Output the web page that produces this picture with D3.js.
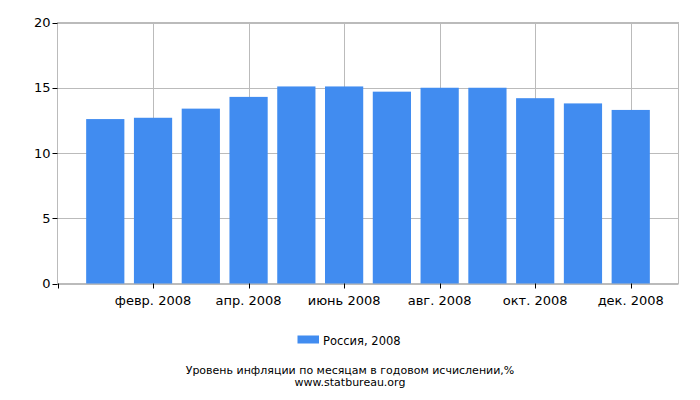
<!DOCTYPE html>
<html><head><meta charset="utf-8">
<script src="https://cdn.jsdelivr.net/npm/d3@7/dist/d3.min.js"></script>
<style>body{margin:0;background:#fff;} svg{display:block;font-family:"DejaVu Sans",sans-serif;}</style>
</head><body><svg id="c" width="700" height="400"></svg>
<script>
const months = ["янв. 2008","февр. 2008","март 2008","апр. 2008","май 2008","июнь 2008","июль 2008","авг. 2008","сент. 2008","окт. 2008","нояб. 2008","дек. 2008"];
const values = [12.6, 12.7, 13.4, 14.3, 15.1, 15.1, 14.7, 15.0, 15.0, 14.2, 13.8, 13.3];
const yTicks = [0, 5, 10, 15, 20];
const xTickIdx = [1, 3, 5, 7, 9, 11];
const seriesName = "Россия, 2008";
const title = "Уровень инфляции по месяцам в годовом исчислении,%";
const source = "www.statbureau.org";

const svg = d3.select("#c");
const L = 57.5, R = 678.5, T = 22.5, B = 283.5;
const x = d3.scaleLinear().domain([-1, 12]).range([L, R]);
const y = d3.scaleLinear().domain([0, 20]).range([B, T]);
const bw = (x(1) - x(0)) * 0.8;
const color = "#418cf0";
const grid = "#bbbbbb";

// grid
svg.append("g").selectAll("line").data(yTicks).join("line")
  .attr("x1", L).attr("x2", R).attr("y1", d => Math.round(y(d)) + 0.5).attr("y2", d => Math.round(y(d)) + 0.5)
  .attr("stroke", grid);
svg.append("g").selectAll("line").data(xTickIdx).join("line")
  .attr("x1", d => Math.round(x(d)) + 0.5).attr("x2", d => Math.round(x(d)) + 0.5).attr("y1", T).attr("y2", B)
  .attr("stroke", grid);
svg.append("rect").attr("x", L).attr("y", T).attr("width", R - L).attr("height", B - T)
  .attr("fill", "none").attr("stroke", grid);

// bars
svg.append("g").selectAll("rect").data(values).join("rect")
  .attr("x", (d, i) => x(i) - bw / 2).attr("width", bw)
  .attr("y", d => y(d)).attr("height", d => y(0) - y(d))
  .attr("fill", color);

// y axis ticks
const ya = svg.append("g");
ya.selectAll("line").data(yTicks).join("line")
  .attr("x1", L - 5).attr("x2", L).attr("y1", d => Math.round(y(d)) + 0.5).attr("y2", d => Math.round(y(d)) + 0.5)
  .attr("stroke", "#000");
ya.selectAll("text").data(yTicks).join("text")
  .attr("x", L - 7).attr("y", d => y(d) + 4.5).attr("text-anchor", "end")
  .attr("font-size", 13).attr("fill", "#000").text(d => d);

// x axis ticks
const xa = svg.append("g");
xa.selectAll("line").data([-1].concat(xTickIdx)).join("line")
  .attr("x1", d => Math.round(x(d)) + 0.5).attr("x2", d => Math.round(x(d)) + 0.5).attr("y1", B).attr("y2", B + 5)
  .attr("stroke", "#000");
xa.selectAll("text").data(xTickIdx).join("text")
  .attr("x", d => x(d)).attr("y", 305).attr("text-anchor", "middle")
  .attr("font-size", 13).attr("fill", "#000").text(d => months[d]);

// legend
svg.append("rect").attr("x", 297.5).attr("y", 335.5).attr("width", 21.5).attr("height", 8).attr("fill", color);
svg.append("text").attr("x", 323).attr("y", 344.5).attr("font-size", 11.5).attr("fill", "#000").text(seriesName);

svg.append("text").attr("x", 350).attr("y", 374).attr("text-anchor", "middle").attr("font-size", 11).attr("fill", "#000").text(title);
svg.append("text").attr("x", 350).attr("y", 386).attr("text-anchor", "middle").attr("font-size", 11).attr("fill", "#000").text(source);
</script></body></html>
